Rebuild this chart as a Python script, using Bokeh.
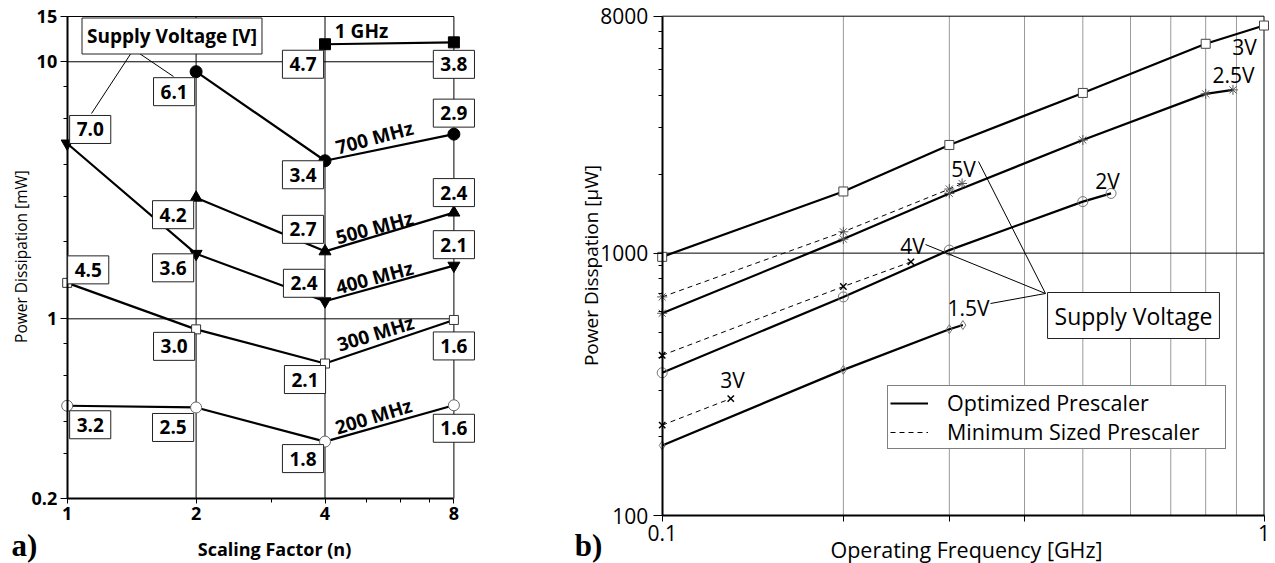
import numpy as np
from bokeh.plotting import figure
from bokeh.models import Label, Legend, LegendItem, FixedTicker, Range1d
from bokeh.layouts import row
from bokeh.embed import file_html
from bokeh.resources import INLINE

# ------------------------------------------------------------------ data (a)
scaling_ticks = [1, 2, 4, 8]
n_1ghz = [4, 8];        p_1ghz = [11.7, 11.9];              v_1ghz = ["4.7", "3.8"]
n_700 = [2, 4, 8];      p_700 = [9.15, 4.12, 5.23];         v_700 = ["6.1", "3.4", "2.9"]
n_500 = [2, 4, 8];      p_500 = [2.96, 1.83, 2.59];         v_500 = ["4.2", "2.7", "2.4"]
n_400 = [1, 2, 4, 8];   p_400 = [4.81, 1.79, 1.17, 1.61];   v_400 = ["7.0", "3.6", "2.4", "2.1"]
n_300 = [1, 2, 4, 8];   p_300 = [1.38, 0.91, 0.67, 0.99];   v_300 = ["4.5", "3.0", "2.1", "1.6"]
n_200 = [1, 2, 4, 8];   p_200 = [0.459, 0.452, 0.333, 0.461]; v_200 = ["3.2", "2.5", "1.8", "1.6"]
freq_names_a = ["1 GHz", "700 MHz", "500 MHz", "400 MHz", "300 MHz", "200 MHz"]
ya_ticks = [0.2, 1, 10, 15]

# ------------------------------------------------------------------ data (b)
f_opt_3v = [0.1, 0.2, 0.3, 0.5, 0.8, 1.0];     p_opt_3v = [968, 1718, 2584, 4080, 6280, 7370]
f_opt_25v = [0.1, 0.2, 0.3, 0.5, 0.8, 0.888];  p_opt_25v = [590, 1131, 1689, 2699, 4045, 4190]
f_opt_2v = [0.1, 0.2, 0.3, 0.5, 0.557];        p_opt_2v = [350, 681, 1027, 1572, 1689]
f_opt_15v = [0.1, 0.2, 0.3, 0.316];            p_opt_15v = [185, 359, 513, 532]
f_min_5v = [0.1, 0.2, 0.3, 0.315];             p_min_5v = [681, 1206, 1755, 1843]
f_min_4v = [0.1, 0.2, 0.259];                  p_min_4v = [408, 746, 926]
f_min_3v = [0.1, 0.130];                       p_min_3v = [221, 279]
volt_names_b = ["3V", "2.5V", "2V", "5V", "4V", "1.5V", "3V"]
xb_ticks = [0.1, 1]
yb_ticks = [100, 1000, 8000]

# ------------------------------------------------------------------ styles / geometry
FA = "Open Sans"
FB = "Open Sans"
SERIF = "Liberation Serif"
H = 563
W1, W2 = 560, 715
# where the data frames sit on the page (pixels)
A_L, A_R, A_T, A_B = 66.7, 453.4, 16.0, 498.0
B_L, B_R, B_T, B_B = 661.7, 1263.5, 15.7, 515.0
B_OFF = W1


def a_x(px):
    return 10 ** ((px - A_L) / (A_R - A_L) * np.log10(8))


def a_y(py):
    return 10 ** (np.log10(0.2) + (A_B - py) / (A_B - A_T) * np.log10(15 / 0.2))


def b_x(px):
    return 10 ** (-1 + (px - B_L) / (B_R - B_L))


def b_y(py):
    return 10 ** (2 + (B_B - py) / (B_B - B_T) * np.log10(8000 / 100))


def style_axis(ax, font, size, bold, tick_out, minor_out, standoff):
    ax.axis_line_width = 2
    ax.axis_line_color = "black"
    ax.major_tick_line_color = "black"
    ax.minor_tick_line_color = "black"
    ax.major_tick_in = 0
    ax.major_tick_out = tick_out
    ax.minor_tick_in = 0
    ax.minor_tick_out = minor_out
    ax.major_label_text_font = font
    ax.major_label_text_font_style = "bold" if bold else "normal"
    ax.major_label_text_font_size = size
    ax.major_label_text_color = "black"
    ax.major_label_standoff = standoff


def txt(p, x, y, text, font, size, bold=False, angle=0.0, **kw):
    p.add_layout(Label(x=x, y=y, text=text, angle=angle, text_align="center", text_baseline="middle",
                       text_font=font, text_font_size=size, text_color="black",
                       text_font_style="bold" if bold else "normal", **kw))


# ================================================================== panel a
p1 = figure(width=W1, height=H, x_axis_type="log", y_axis_type="log",
            x_range=Range1d(a_x(0), a_x(W1)), y_range=Range1d(a_y(H), a_y(0)),
            output_backend="svg", toolbar_location=None,
            min_border_left=0, min_border_right=0, min_border_top=0, min_border_bottom=0)
p1.outline_line_color = None
p1.xgrid.grid_line_color = None
p1.ygrid.grid_line_color = None

p1.xaxis.ticker = FixedTicker(ticks=scaling_ticks, minor_ticks=[3, 5, 6, 7])
p1.xaxis.major_label_overrides = {t: str(t) for t in scaling_ticks}
p1.xaxis.fixed_location = ya_ticks[0]
p1.xaxis.bounds = (scaling_ticks[0], scaling_ticks[-1])
p1.yaxis.ticker = FixedTicker(ticks=ya_ticks, minor_ticks=[0.3, 0.4, 0.6, 0.8, 2, 3, 4, 6, 8])
p1.yaxis.major_label_overrides = {t: str(t) for t in ya_ticks}
p1.yaxis.fixed_location = scaling_ticks[0]
p1.yaxis.bounds = (ya_ticks[0], ya_ticks[-1])
style_axis(p1.xaxis[0], FA, "18px", True, 5, 4, 3)
style_axis(p1.yaxis[0], FA, "18px", True, 7, 4, 3)

# grid lines at 2, 4 and 1, 10, plus the top / right frame edges
xmin, xmax, ymin, ymax = scaling_ticks[0], scaling_ticks[-1], ya_ticks[0], ya_ticks[-1]
gx = [2, 4, xmax]
p1.segment(x0=gx, y0=[ymin] * 3, x1=gx, y1=[ymax] * 3, line_color="black", line_width=1)
gy = [1, 10, ymax]
p1.segment(x0=[xmin] * 3, y0=gy, x1=[xmax] * 3, y1=gy, line_color="black", line_width=1)

series_a = [
    (n_1ghz, p_1ghz, v_1ghz, dict(marker="square", size=11, fill_color="black", line_color="black"),
     [(-22, 20), (0, 22)]),
    (n_700, p_700, v_700, dict(marker="circle", size=12, fill_color="black", line_color="black"),
     [(-22, 20), (-22, 14), (0, -21)]),
    (n_500, p_500, v_500, dict(marker="triangle", size=12, fill_color="black", line_color="black"),
     [(-23, 17), (-22, -22), (0, -20)]),
    (n_400, p_400, v_400, dict(marker="inverted_triangle", size=12, fill_color="black", line_color="black"),
     [(23, -14), (-23, 14), (-21, -18), (0, -21)]),
    (n_300, p_300, v_300, dict(marker="square", size=9, fill_color="white", line_color="#333333"),
     [(21, -13), (-22, 17), (-20, 16), (0, 26)]),
    (n_200, p_200, v_200, dict(marker="circle", size=11, fill_color="white", line_color="#666666"),
     [(23, 19), (-23, 20), (-22, 17), (0, 23)]),
]
for xs, ys, vs, mk, offs in series_a:
    p1.line(xs, ys, line_color="black", line_width=2.2)
    p1.scatter(xs, ys, **mk)
    for x, y, v, (dx, dy) in zip(xs, ys, vs, offs):
        txt(p1, x, y, v, FA, "19px", bold=True, x_offset=dx, y_offset=-dy,
            background_fill_color="white", border_line_color="#222222", border_line_width=1, padding=7)

freq_pos_a = [(361, 30, 0), (374, 137, 15), (374, 227, 15), (374, 277, 15), (375, 333, 17), (373, 416, 17)]
for name, (px, py, ang) in zip(freq_names_a, freq_pos_a):
    txt(p1, a_x(px), a_y(py), name, FA, "19px", bold=True, angle=np.radians(ang))

txt(p1, a_x(171.5), a_y(35.5), "Supply Voltage [V]", FA, "19px", bold=True,
    background_fill_color="white", border_line_color="#222222", border_line_width=1, padding=5)
lead_a = [((133, 49), (91, 113)), ((133, 49), (173, 76))]
p1.segment(x0=[a_x(a[0]) for a, b in lead_a], y0=[a_y(a[1]) for a, b in lead_a],
           x1=[a_x(b[0]) for a, b in lead_a], y1=[a_y(b[1]) for a, b in lead_a],
           line_color="black", line_width=1)

txt(p1, a_x(20), a_y(256), "Power Dissipation [mW]", FA, "15.5px", angle=np.pi / 2)
txt(p1, a_x(274), a_y(548), "Scaling Factor (n)", FA, "18px", bold=True)
txt(p1, a_x(24), a_y(545), "a)", SERIF, "31px", bold=True)

# ================================================================== panel b
p2 = figure(width=W2, height=H, x_axis_type="log", y_axis_type="log",
            x_range=Range1d(b_x(B_OFF), b_x(B_OFF + W2)), y_range=Range1d(b_y(H), b_y(0)),
            output_backend="svg", toolbar_location=None,
            min_border_left=0, min_border_right=0, min_border_top=0, min_border_bottom=0)
p2.outline_line_color = None
p2.xgrid.grid_line_color = None
p2.ygrid.grid_line_color = None

p2.xaxis.ticker = FixedTicker(ticks=xb_ticks, minor_ticks=[0.2, 0.3, 0.4])
p2.xaxis.major_label_overrides = {t: str(t) for t in xb_ticks}
p2.xaxis.fixed_location = yb_ticks[0]
p2.xaxis.bounds = (xb_ticks[0], xb_ticks[-1])
p2.yaxis.ticker = FixedTicker(ticks=yb_ticks,
                              minor_ticks=[200, 300, 400, 500, 600, 700, 800, 900,
                                           2000, 3000, 4000, 5000, 6000, 7000])
p2.yaxis.major_label_overrides = {t: str(t) for t in yb_ticks}
p2.yaxis.fixed_location = xb_ticks[0]
p2.yaxis.bounds = (yb_ticks[0], yb_ticks[-1])
style_axis(p2.xaxis[0], FB, "21px", False, 6, 6, 3)
style_axis(p2.yaxis[0], FB, "21px", False, 9, 4, 5)

fx0, fx1, fy0, fy1 = xb_ticks[0], xb_ticks[-1], yb_ticks[0], yb_ticks[-1]
vg = [0.2, 0.3, 0.4, 0.5, 0.6, 0.7, 0.8, 0.9]
p2.segment(x0=vg, y0=[fy0] * len(vg), x1=vg, y1=[fy1] * len(vg), line_color="#9a9a9a", line_width=1)
p2.segment(x0=[fx0, fx0, fx1], y0=[1000, fy1, fy0], x1=[fx1, fx1, fx1], y1=[1000, fy1, fy1],
           line_color="black", line_width=1)

opt_series = [
    (f_opt_3v, p_opt_3v, dict(marker="square", size=9, fill_color="white", line_color="#444444")),
    (f_opt_25v, p_opt_25v, dict(marker="asterisk", size=10, line_color="#555555")),
    (f_opt_2v, p_opt_2v, dict(marker="circle", size=10, fill_color=None, line_color="#777777")),
    (f_opt_15v, p_opt_15v, dict(marker="diamond", size=9, fill_color=None, line_color="#777777")),
]
min_series = [
    (f_min_5v, p_min_5v, dict(marker="asterisk", size=10, line_color="#555555")),
    (f_min_4v, p_min_4v, dict(marker="x", size=9, line_color="black", line_width=1.5)),
    (f_min_3v, p_min_3v, dict(marker="x", size=9, line_color="black", line_width=1.5)),
]
opt_lines, min_lines = [], []
for xs, ys, mk in opt_series:
    opt_lines.append(p2.line(xs, ys, line_color="black", line_width=2.2))
    p2.scatter(xs, ys, **mk)
for xs, ys, mk in min_series:
    min_lines.append(p2.line(xs, ys, line_color="black", line_width=1, line_dash="5 4"))
    p2.scatter(xs, ys, **mk)

volt_pos_b = [(1244, 46), (1233, 74), (1107, 180), (963, 168), (912, 245), (968, 307), (732, 379)]
for name, (px, py) in zip(volt_names_b, volt_pos_b):
    txt(p2, b_x(px), b_y(py), name, FB, "21px")

lead_b = [((1045, 293), (978, 161)), ((1045, 293), (925, 244)), ((1045, 293), (990, 303))]
p2.segment(x0=[b_x(a[0]) for a, b in lead_b], y0=[b_y(a[1]) for a, b in lead_b],
           x1=[b_x(b[0]) for a, b in lead_b], y1=[b_y(b[1]) for a, b in lead_b],
           line_color="black", line_width=1)

txt(p2, b_x(1133), b_y(315), "Supply Voltage", FB, "23px",
    background_fill_color="white", border_line_color="#222222", border_line_width=1, padding=7)

legend = Legend(items=[LegendItem(label="Optimized Prescaler", renderers=[opt_lines[0]]),
                       LegendItem(label="Minimum Sized Prescaler", renderers=[min_lines[0]])],
                location=(327, 114), orientation="vertical",
                label_text_font=FB, label_text_font_size="21.5px", label_text_color="black",
                glyph_width=38, glyph_height=20, label_height=20, label_width=276,
                spacing=0, padding=2, margin=0,
                label_standoff=19, border_line_color="black", border_line_width=1,
                background_fill_color="white", background_fill_alpha=1.0)
p2.add_layout(legend)

txt(p2, b_x(590), b_y(265), "Power Disspation [\u00b5W]", FB, "19px", angle=np.pi / 2)
txt(p2, b_x(966), b_y(549), "Operating Frequency [GHz]", FB, "21.5px")
txt(p2, b_x(588), b_y(545), "b)", SERIF, "31px", bold=True)

layout = row(p1, p2)
open("out.html", "w").write(file_html(layout, INLINE))
